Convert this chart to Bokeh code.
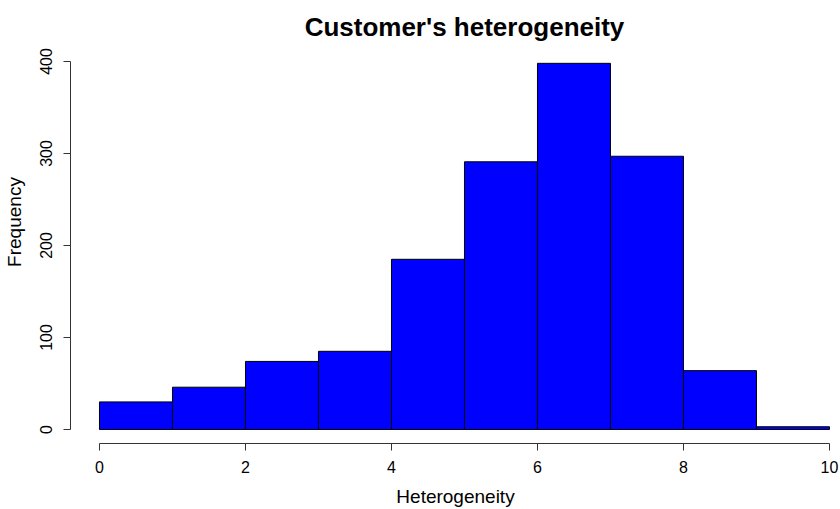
from bokeh.plotting import figure
from bokeh.models import Range1d, FixedTicker, Label
from bokeh.embed import file_html
from bokeh.resources import INLINE

# Histogram data (bin edges and counts)
bin_edges = [0, 1, 2, 3, 4, 5, 6, 7, 8, 9, 10]
counts = [30, 46, 74, 85, 185, 291, 398, 297, 64, 3]
x_ticks = [0, 2, 4, 6, 8, 10]
y_ticks = [0, 100, 200, 300, 400]
title_text = "Customer's heterogeneity"

FONT = "Liberation Sans"

# The frame reaches the top of the canvas so the title can sit inside it
p = figure(
    width=840, height=509,
    output_backend="svg", toolbar_location=None,
    x_range=Range1d(-0.397, 10.151), y_range=Range1d(-15.2, 466.3),
    min_border_left=70, min_border_right=0, min_border_top=0, min_border_bottom=66,
)
p.outline_line_color = None
p.xgrid.visible = False
p.ygrid.visible = False
p.background_fill_color = "white"
p.border_fill_color = "white"

p.quad(left=bin_edges[:-1], right=bin_edges[1:], bottom=0, top=counts,
       fill_color="#0000FF", line_color="#000000", line_width=1)

p.add_layout(Label(
    x=(bin_edges[0] + bin_edges[-1]) / 2, y=437.0, text=title_text,
    text_font=FONT, text_font_size="26px", text_font_style="bold",
    text_color="black", text_align="center", text_baseline="alphabetic",
))

for ax, ticks, bounds in ((p.xaxis[0], x_ticks, (0, 10)), (p.yaxis[0], y_ticks, (0, 400))):
    ax.ticker = FixedTicker(ticks=ticks)
    ax.bounds = bounds
    ax.axis_line_color = "#333333"
    ax.major_tick_line_color = "#333333"
    ax.minor_tick_line_color = None
    ax.major_tick_out = 7
    ax.major_tick_in = 0
    ax.major_label_text_font = FONT
    ax.major_label_text_font_size = "16px"
    ax.major_label_text_color = "black"
    ax.axis_label_text_font = FONT
    ax.axis_label_text_font_size = "19px"
    ax.axis_label_text_font_style = "normal"
    ax.axis_label_text_color = "black"

p.xaxis.axis_label = "Heterogeneity"
p.yaxis.axis_label = "Frequency"
p.yaxis.major_label_orientation = "vertical"
p.xaxis.major_label_standoff = 10
p.xaxis.axis_label_standoff = 10
p.yaxis.major_label_standoff = 11
p.yaxis.axis_label_standoff = 13

open("out.html", "w").write(file_html(p, INLINE))
